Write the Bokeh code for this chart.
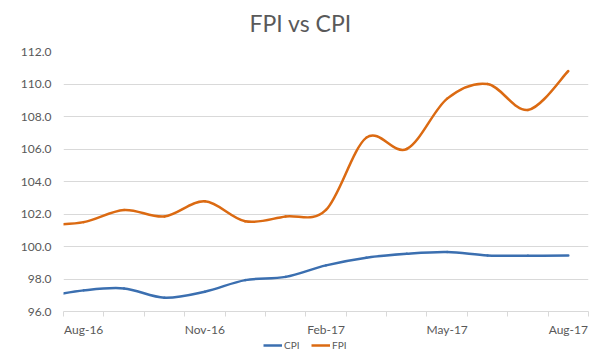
from bokeh.plotting import figure
from bokeh.layouts import column
from bokeh.models import FixedTicker, Legend, LegendItem, ColumnDataSource, Range1d
from bokeh.embed import file_html
from bokeh.resources import INLINE

# Monthly data (Jul-16 point lies just left of the visible axis range)
months = ["Jul-16", "Aug-16", "Sep-16", "Oct-16", "Nov-16", "Dec-16", "Jan-17",
          "Feb-17", "Mar-17", "Apr-17", "May-17", "Jun-17", "Jul-17", "Aug-17"]
cpi = [96.90, 97.30, 97.42, 96.85, 97.22, 97.93, 98.13,
       98.84, 99.31, 99.55, 99.66, 99.45, 99.43, 99.45]
fpi = [101.33, 101.50, 102.25, 101.85, 102.78, 101.55, 101.85,
       102.25, 106.70, 106.00, 109.10, 110.00, 108.40, 110.80]
series_names = ["CPI", "FPI"]
shown_labels = ["Aug-16", "Nov-16", "Feb-17", "May-17", "Aug-17"]
y_ticks = [96, 98, 100, 102, 104, 106, 108, 110, 112]
title_text = "FPI vs CPI"

BLUE = "#3B6FB0"
ORANGE = "#DB6A12"
GREY_TXT = "#595959"
GRID = "#D9D9D9"

xs = list(range(-1, len(months) - 1))  # Aug-16 at 0
x_rng = (-0.5, len(months) - 1.5)


def smooth_segments(x, y):
    """Excel-like smoothed line: cubic Bezier segments (Catmull-Rom control points)."""
    n = len(x)
    d = dict(x0=[], y0=[], x1=[], y1=[], cx0=[], cy0=[], cx1=[], cy1=[])
    for i in range(n - 1):
        xp, yp = (x[i - 1], y[i - 1]) if i > 0 else (x[i], y[i])
        xn, yn = (x[i + 2], y[i + 2]) if i + 2 < n else (x[i + 1], y[i + 1])
        d["x0"].append(x[i]); d["y0"].append(y[i])
        d["x1"].append(x[i + 1]); d["y1"].append(y[i + 1])
        d["cx0"].append(x[i] + (x[i + 1] - xp) / 6.0)
        d["cy0"].append(y[i] + (y[i + 1] - yp) / 6.0)
        d["cx1"].append(x[i + 1] - (xn - x[i]) / 6.0)
        d["cy1"].append(y[i + 1] - (yn - y[i]) / 6.0)
    return ColumnDataSource(d)


def strip(height, top):
    f = figure(width=600, height=height, output_backend="svg", toolbar_location=None,
               x_range=Range1d(*x_rng), y_range=Range1d(0, 1),
               x_axis_location=None, y_axis_location=None,
               min_border_left=63, min_border_right=12, min_border_top=top, min_border_bottom=0)
    f.outline_line_color = None
    f.grid.visible = False
    return f


# title strip
tp = strip(40, 36)
tp.title.text = title_text
tp.title.align = "left"
tp.title.offset = 186
tp.title.standoff = 0
tp.title.text_font = "Lato"
tp.title.text_font_size = "23px"
tp.title.text_font_style = "normal"
tp.title.text_color = GREY_TXT

# main chart
p = figure(width=600, height=299, output_backend="svg", toolbar_location=None,
           x_range=Range1d(*x_rng), y_range=Range1d(96, 112),
           min_border_left=63, min_border_right=12, min_border_top=11, min_border_bottom=25)
p.outline_line_color = None
p.background_fill_color = "white"
p.border_fill_color = "white"

p.yaxis.ticker = FixedTicker(ticks=y_ticks)
p.yaxis.major_label_overrides = {t: f"{t:.1f}" for t in y_ticks}
p.yaxis.axis_line_color = None
p.yaxis.major_tick_line_color = None
p.yaxis.minor_tick_line_color = None
p.yaxis.major_tick_out = 0
p.yaxis.major_label_standoff = 12
p.yaxis.major_label_text_font = "Lato"
p.yaxis.major_label_text_font_size = "12px"
p.yaxis.major_label_text_color = GREY_TXT
p.ygrid.ticker = FixedTicker(ticks=y_ticks)
p.ygrid.grid_line_color = GRID
p.xgrid.grid_line_color = None

label_pos = [months.index(m) - 1 for m in shown_labels]
p.xaxis.ticker = FixedTicker(ticks=label_pos,
                             minor_ticks=[i - 0.5 for i in range(0, len(months))])
p.xaxis.major_label_overrides = {months.index(m) - 1: m for m in shown_labels}
p.xaxis.axis_line_color = GRID
p.xaxis.major_tick_line_color = None
p.xaxis.minor_tick_line_color = GRID
p.xaxis.minor_tick_out = 5
p.xaxis.minor_tick_in = 0
p.xaxis.major_tick_out = 0
p.xaxis.major_label_standoff = 5
p.xaxis.axis_label_standoff = 0
p.xaxis.major_label_text_font = "Lato"
p.xaxis.major_label_text_font_size = "12px"
p.xaxis.major_label_text_color = GREY_TXT

colors = [BLUE, ORANGE]
for vals, c in zip([cpi, fpi], colors):
    p.bezier(x0="x0", y0="y0", x1="x1", y1="y1", cx0="cx0", cy0="cy0", cx1="cx1", cy1="cy1",
             source=smooth_segments(xs, vals), line_color=c, line_width=2.5, line_cap="round")

# legend strip (its series lines fall outside its tiny range; only swatches show)
lg = strip(21, 0)
items = []
for name, vals, c in zip(series_names, [cpi, fpi], colors):
    r = lg.line(x=xs, y=vals, line_color=c, line_width=2.5)
    items.append(LegendItem(label=name, renderers=[r]))
legend = Legend(items=items, orientation="horizontal", location=(200, 9),
                padding=0, margin=0, spacing=7, glyph_width=19, glyph_height=10,
                label_standoff=2, label_text_font="Lato", label_text_font_size="10px",
                label_text_color=GREY_TXT, border_line_color=None,
                background_fill_alpha=0, label_height=10)
lg.add_layout(legend, "center")

layout = column(tp, p, lg, spacing=0)
open("out.html", "w").write(file_html(layout, INLINE))
